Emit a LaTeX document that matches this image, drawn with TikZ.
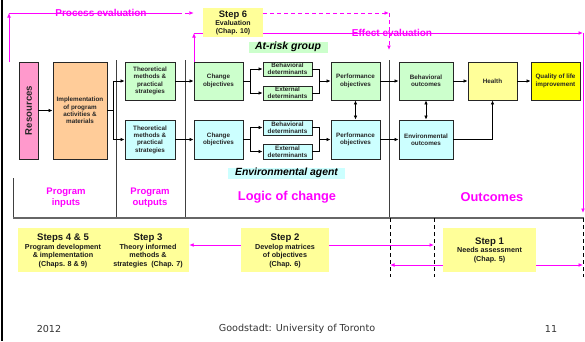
\documentclass[tikz,border=0pt]{standalone}
\usepackage{fontspec}
\setmainfont{Liberation Sans}
\newfontfamily\footfont{DejaVu Sans}
\usetikzlibrary{arrows.meta}
\definecolor{lgreen}{HTML}{CCFFCC}
\definecolor{lcyan}{HTML}{CCFFFF}
\definecolor{lorange}{HTML}{FFCC99}
\definecolor{lpink}{HTML}{FF99CC}
\definecolor{lyel}{HTML}{FFFF99}
\definecolor{yel}{HTML}{FFFF00}
\definecolor{mag}{HTML}{FF00FF}
\definecolor{foot}{HTML}{333333}
\tikzset{
  bx/.style={draw=black!85, line width=0.8pt, align=center, inner sep=0pt,
    font=\fontsize{6.3}{7.3}\selectfont\bfseries, text=black!85},
  gbox/.style={bx, fill=lgreen},
  cbox/.style={bx, fill=lcyan},
  arr/.style={-{Latex[length=4pt,width=3.4pt]}, line width=0.7pt, draw=black},
  arrtwo/.style={{Latex[length=4pt,width=3.4pt]}-{Latex[length=4pt,width=3.4pt]}, line width=0.7pt, draw=black},
  plain/.style={line width=0.7pt, draw=black},
  magline/.style={draw=mag, line width=1pt},
  magarr/.style={magline, -{Latex[length=4.5pt,width=3.8pt]}},
  magdash/.style={magarr, dash pattern=on 4pt off 3pt},
  colline/.style={draw=black!75, line width=0.8pt},
  vdash/.style={draw=black, line width=0.9pt, dash pattern=on 4pt off 3pt},
  magtext/.style={text=mag, font=\fontsize{10}{12}\selectfont\bfseries, inner sep=0pt},
  bigmag/.style={text=mag, font=\fontsize{12.8}{15}\selectfont\bfseries, inner sep=0pt},
  collabel/.style={text=mag, font=\fontsize{9.5}{10.7}\selectfont\bfseries, align=center, inner sep=0pt},
  stepbox/.style={fill=lyel, inner sep=0pt},
  steptext/.style={align=center, inner sep=0pt, font=\fontsize{7.2}{9.6}\selectfont\bfseries, text=black!90},
  footnode/.style={text=foot, font=\footfont\fontsize{9.6}{11}\selectfont, inner sep=0pt},
}
\begin{document}
\begin{tikzpicture}[x=1pt, y=-1pt]
\useasboundingbox (0,0) rectangle (585,341);
\fill[white] (0,0) rectangle (585,341);
% left black border
\draw[black, line width=2.6pt] (2,0) -- (2,341);

% column lines
\draw[colline] (116,60) -- (116,218);
\draw[colline] (185,60) -- (185,218);
\draw[colline] (389,60) -- (389,218);
\draw[colline] (13,178) -- (13,218);
\draw[draw=black!60, line width=1.2pt] (13,218) -- (584,218);

% magenta evaluation lines
\coordinate (pe0) at (9,62);
\coordinate (pe1) at (9,13);
\coordinate (pe2) at (178,13);
\coordinate (pe3) at (389,13);
\coordinate (pe4) at (389,50);
\coordinate (ee0) at (194,62);
\coordinate (ee1) at (194,33);
\coordinate (ee2) at (583,33);
\coordinate (ee3) at (583,213);
\draw[magarr] (pe0) -- (pe1);
\draw[magline] (pe1) -- (pe2);
\node[magtext] (pelab) at (101,13) {Process evaluation};
\draw[magarr] (ee0) -- (ee1);
\draw[magarr] (ee1) -- (ee2);
\draw[magarr] (ee2) -- (ee3);
\node[magtext] (eelab) at (392,33) {Effect evaluation};

% Step 6
\node[stepbox, minimum width=60, minimum height=29] (s6) at (233,22.5) {};
\node[steptext] (s6t) at (233,23) {{\fontsize{9.4}{10}\selectfont Step 6}\\[-1.2pt]{\fontsize{7}{9}\selectfont Evaluation}\\[-1.2pt]{\fontsize{7}{9}\selectfont (Chap. 10)}};
\draw[magdash] (pe2) -- ([xshift=-9pt]s6.west |- pe2);
\draw[magdash] (s6.east |- pe2) -- (pe3);
\draw[magdash] (pe3) -- (pe4);

% group labels
\node[fill=lgreen, minimum width=79, minimum height=11, inner sep=0pt,
  font=\fontsize{10.5}{12}\selectfont\bfseries\itshape] (atrisk) at (288,47) {At-risk group};
\node[fill=lcyan, minimum width=117, minimum height=11, inner sep=0pt,
  font=\fontsize{10.4}{12}\selectfont\bfseries\itshape] (envag) at (286.5,173) {Environmental agent};

% boxes
\node[bx, fill=lpink, minimum width=19, minimum height=97] (res) at (28.5,110.5) {};
\node[rotate=90, inner sep=0pt, font=\fontsize{9.6}{11}\selectfont\bfseries, text=black!85] (restext) at (28.5,110.5) {Resources};
\node[bx, fill=lorange, minimum width=54, minimum height=97] (impl) at (80,110.5) {Implementation\\of program\\activities \&\\materials};

\node[gbox, minimum width=50, minimum height=38] (thg) at (150,81) {Theoretical\\methods \&\\practical\\strategies};
\node[cbox, minimum width=50, minimum height=39] (thc) at (150,139.5) {Theoretical\\methods \&\\practical\\strategies};

\node[gbox, minimum width=49, minimum height=38] (chg) at (218.5,81) {Change\\objectives};
\node[cbox, minimum width=49, minimum height=39] (chc) at (218.5,139.5) {Change\\objectives};

\node[gbox, minimum width=49, minimum height=14] (bdg) at (287.5,69) {Behavioral\\determinants};
\node[gbox, minimum width=49, minimum height=14] (edg) at (287.5,93) {External\\determinants};
\node[cbox, minimum width=49, minimum height=15] (bdc) at (287.5,127.5) {Behavioral\\determinants};
\node[cbox, minimum width=49, minimum height=15] (edc) at (287.5,151.5) {External\\determinants};

\node[gbox, minimum width=49, minimum height=38] (pog) at (355.5,81) {Performance\\objectives};
\node[cbox, minimum width=49, minimum height=39] (poc) at (355.5,139.5) {Performance\\objectives};

\node[gbox, minimum width=54, minimum height=38] (bo) at (426,81) {Behavioral\\outcomes};
\node[cbox, minimum width=54, minimum height=39] (eo) at (426,139.5) {Environmental\\outcomes};

\node[bx, fill=lyel, minimum width=49, minimum height=38] (hl) at (492.5,81) {Health};
\node[bx, fill=yel, minimum width=49, minimum height=38] (ql) at (555.5,81) {Quality of life\\improvement};

% connectors
\draw[arr] (res.east) -- (impl.west);
\coordinate (b1) at (113,110.5);
\draw[plain] (impl.east) -- (b1);
\draw[arr] (b1) |- (thg.west);
\draw[arr] (b1) |- (thc.west);
\draw[arr] (thg.east) -- (chg.west);
\draw[arr] (thc.east) -- (chc.west);

\coordinate (b2) at (250,81);
\coordinate (j2) at (319,81);
\draw[plain] (chg.east) -- (b2);
\draw[arr] (b2) |- (bdg.west);
\draw[arr] (b2) |- (edg.west);
\draw[plain] (bdg.east) -| (j2);
\draw[plain] (edg.east) -| (j2);
\draw[arr] (j2) -- (pog.west);

\coordinate (b3) at (250,139.5);
\coordinate (j3) at (319,139.5);
\draw[plain] (chc.east) -- (b3);
\draw[arr] (b3) |- (bdc.west);
\draw[arr] (b3) |- (edc.west);
\draw[plain] (bdc.east) -| (j3);
\draw[plain] (edc.east) -| (j3);
\draw[arr] (j3) -- (poc.west);

\draw[arr] (pog.east) -- (bo.west);
\draw[arr] (poc.east) -- (eo.west);
\draw[arr] (bo.east) -- (hl.west);
\draw[arr] (hl.east) -- (ql.west);
\draw[arr] (eo.east) -| (hl.south);
\draw[arrtwo] (pog.south) -- (poc.north);
\draw[arrtwo] (bo.south) -- (eo.north);

% column labels
\node[collabel] (pin) at (66,198) {Program\\inputs};
\node[collabel] (pout) at (150,198) {Program\\outputs};
\node[bigmag] (loc) at (287,197) {Logic of change};
\node[bigmag] (outc) at (492,197) {Outcomes};

% bottom steps
\node[stepbox, minimum width=171, minimum height=44] (s345) at (103.5,250) {};
\node[steptext] (s45) at (63,251) {{\fontsize{9.6}{10}\selectfont Steps 4 \& 5}\\[-1pt]Program development\\[-1pt]\& implementation\\[-1pt](Chaps. 8 \& 9)};
\node[steptext] (s3) at (148,251) {{\fontsize{9.6}{10}\selectfont Step 3}\\[-1pt]Theory informed\\[-1pt]methods \&\\[-1pt]strategies\ \ (Chap. 7)};
\node[stepbox, minimum width=88, minimum height=44] (s2) at (285,250) {};
\node[steptext] (s2t) at (285,251) {{\fontsize{9.6}{10}\selectfont Step 2}\\[-1pt]Develop matrices\\[-1pt]of objectives\\[-1pt](Chap. 6)};
\node[stepbox, minimum width=93, minimum height=44] (s1) at (489.5,250) {};
\node[steptext] (s1t) at (489.5,250) {{\fontsize{9.6}{10}\selectfont Step 1}\\[-1pt]Needs assessment\\[-1pt](Chap. 5)};

% dashed verticals
\coordinate (d1a) at (390,218); \coordinate (d1b) at (390,277);
\coordinate (d2a) at (434,218); \coordinate (d2b) at (434,277);
\coordinate (d3a) at (583,218); \coordinate (d3b) at (583,277);
\draw[vdash] (d1a) -- (d1b);
\draw[vdash] (d2a) -- (d2b);
\draw[vdash] (d3a) -- (d3b);

% bottom magenta arrows
\draw[magarr] (s2.west |- 0,245) -- (s345.east |- 0,245);
\draw[magarr] (s2.east |- 0,245) -- (434,245);
\draw[magarr] (s1.west |- 0,265) -- (390,265);
\draw[magarr] (s1.east |- 0,265) -- (583,265);

% footer
\node[footnode] (fyear) at (49,329) {2012};
\node[footnode] (fmid) at (297,329) {Goodstadt: University of Toronto};
\node[footnode] (fnum) at (551,329) {11};
\end{tikzpicture}
\end{document}
